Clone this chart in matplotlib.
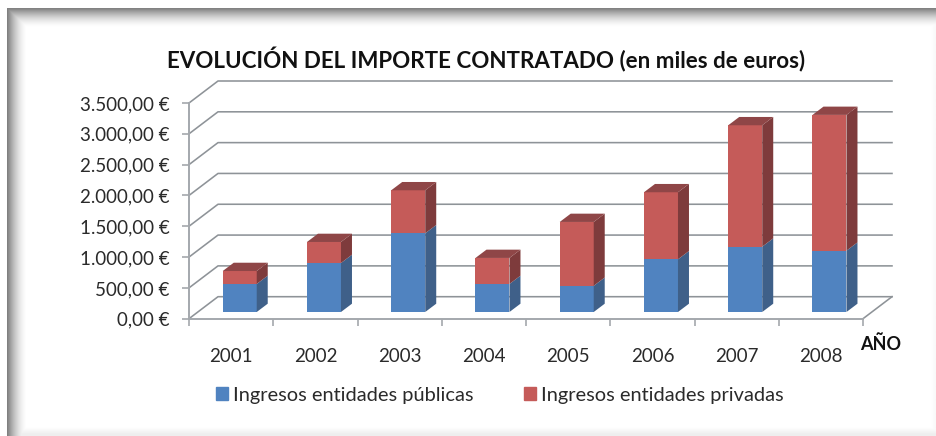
import numpy as np
import matplotlib
matplotlib.use('Agg')
import matplotlib.pyplot as plt
from matplotlib.patches import Polygon, Patch

plt.rcParams['font.family'] = ['Lato', 'DejaVu Sans']

years = ['2001', '2002', '2003', '2004', '2005', '2006', '2007', '2008']
publicas = [455, 795, 1277, 455, 425, 855, 1060, 995]
privadas = [210, 341, 698, 422, 1036, 1088, 1970, 2203]
y_ticks = [0, 500, 1000, 1500, 2000, 2500, 3000, 3500]
y_labels = ['0,00 €', '500,00 €', '1.000,00 €', '1.500,00 €', '2.000,00 €',
            '2.500,00 €', '3.000,00 €', '3.500,00 €']

W, H = 936, 436
grid_c = '#8e9398'
axis_c = '#a4a8ad'
blue, blue_side = '#5083c0', '#3f6089'
red, red_side, red_top = '#c55b59', '#7e3b3c', '#8f4647'

fig = plt.figure(figsize=(W / 100, H / 100), dpi=100)

# card with the blurred dark edge on left and top
bg = fig.add_axes([0, 0, 1, 1], zorder=0)
xx, yy = np.meshgrid(np.arange(W), np.arange(H))
shade = np.maximum(np.clip(1 - (xx - 7) / 20, 0, 1) ** 1.7,
                   np.clip(1 - (yy - 9) / 19, 0, 1) ** 1.7)
shade = np.maximum(shade, 0.14 * np.clip((yy - 427) / 7, 0, 1))
shade = np.maximum(shade, 0.05 * np.clip((xx - 931) / 4, 0, 1))
img = 1 - 0.5 * shade
img[:, :7] = 1
img[:9, :] = 1
bg.imshow(img, cmap='gray', vmin=0, vmax=1, aspect='auto', interpolation='bilinear')
bg.axis('off')

# plot box is the front plane of the 3d chart
x0, x1, y0, y1 = 189, 863, 318.7, 103
ax = fig.add_axes([x0 / W, 1 - y0 / H, (x1 - x0) / W, (y0 - y1) / H], zorder=1)
ax.patch.set_alpha(0)
ax.set_xlim(0, len(years))
ax.set_ylim(0, 3500)

# offsets in data units
px_x = len(years) / (x1 - x0)
px_y = 3500 / (y0 - y1)
wall_dx, wall_dy = 29 * px_x, 22 * px_y
base_dx, base_dy = 8.6 * px_x, 6.7 * px_y
bar_dx, bar_dy = 11 * px_x, 8.3 * px_y
bar_w = 34 * px_x

for t in y_ticks:
    ax.plot([0, wall_dx, len(years) + wall_dx], [t, t + wall_dy, t + wall_dy],
            color=grid_c, lw=1.15, clip_on=False, zorder=1)
ax.plot([len(years), len(years) + wall_dx], [0, wall_dy], color=grid_c, lw=1.15,
        clip_on=False, zorder=1)

x = np.arange(len(years)) + 0.5 + base_dx
pub = np.array(publicas)
tot = pub + np.array(privadas)

ax.bar(x, pub, bar_w, bottom=base_dy, color=blue, clip_on=False, zorder=3,
       label='Ingresos entidades públicas')
ax.bar(x, privadas, bar_w, bottom=base_dy + pub, color=red, clip_on=False, zorder=3,
       label='Ingresos entidades privadas')

for i in range(len(years)):
    r = x[i] + bar_w / 2
    low, mid, top = base_dy, base_dy + pub[i], base_dy + tot[i]
    ax.add_patch(Polygon([(r, low), (r + bar_dx, low + bar_dy), (r + bar_dx, mid + bar_dy), (r, mid)],
                         color=blue_side, lw=0, clip_on=False, zorder=3))
    ax.add_patch(Polygon([(r, mid), (r + bar_dx, mid + bar_dy), (r + bar_dx, top + bar_dy), (r, top)],
                         color=red_side, lw=0, clip_on=False, zorder=3))
    ax.add_patch(Polygon([(r - bar_w, top), (r, top), (r + bar_dx, top + bar_dy),
                          (r - bar_w + bar_dx, top + bar_dy)],
                         color=red_top, lw=0, clip_on=False, zorder=3))

for s in ['top', 'right']:
    ax.spines[s].set_visible(False)
for s in ['left', 'bottom']:
    ax.spines[s].set_color(axis_c)
    ax.spines[s].set_linewidth(1.4)

ax.set_yticks(y_ticks, y_labels)
ax.set_xticks(range(len(years) + 1), [''] * (len(years) + 1))
ax.set_xticks(np.arange(len(years)) + 0.5, years, minor=True)
ax.tick_params(axis='y', length=5, width=1.2, color=axis_c, labelsize=13.5,
               labelcolor='#2a2a2a', pad=9)
ax.tick_params(axis='x', which='major', length=5, width=1.2, color=axis_c)
ax.tick_params(axis='x', which='minor', length=0, labelsize=13.5,
               labelcolor='#2a2a2a', pad=21)

fig.text(486.5 / W, 1 - 60 / H, 'EVOLUCIÓN DEL IMPORTE CONTRATADO (en miles de euros)',
         ha='center', va='center', fontsize=16.1, fontweight='bold', color='#111111')
fig.text(881 / W, 1 - 344 / H, 'AÑO', ha='center', va='center', fontsize=13,
         fontweight='bold', color='#111111')

handles = [Patch(color=blue, label='Ingresos entidades públicas'),
           Patch(color=red, label='Ingresos entidades privadas')]
fig.legend(handles=handles, loc='center', bbox_to_anchor=(500 / W, 1 - 395 / H),
           ncol=2, frameon=False, fontsize=14.4, labelcolor='#2a2a2a',
           handlelength=0.58, handleheight=0.6, handletextpad=0.27, columnspacing=2.5,
           borderpad=0, borderaxespad=0)

fig.savefig('out.png', dpi=100)
